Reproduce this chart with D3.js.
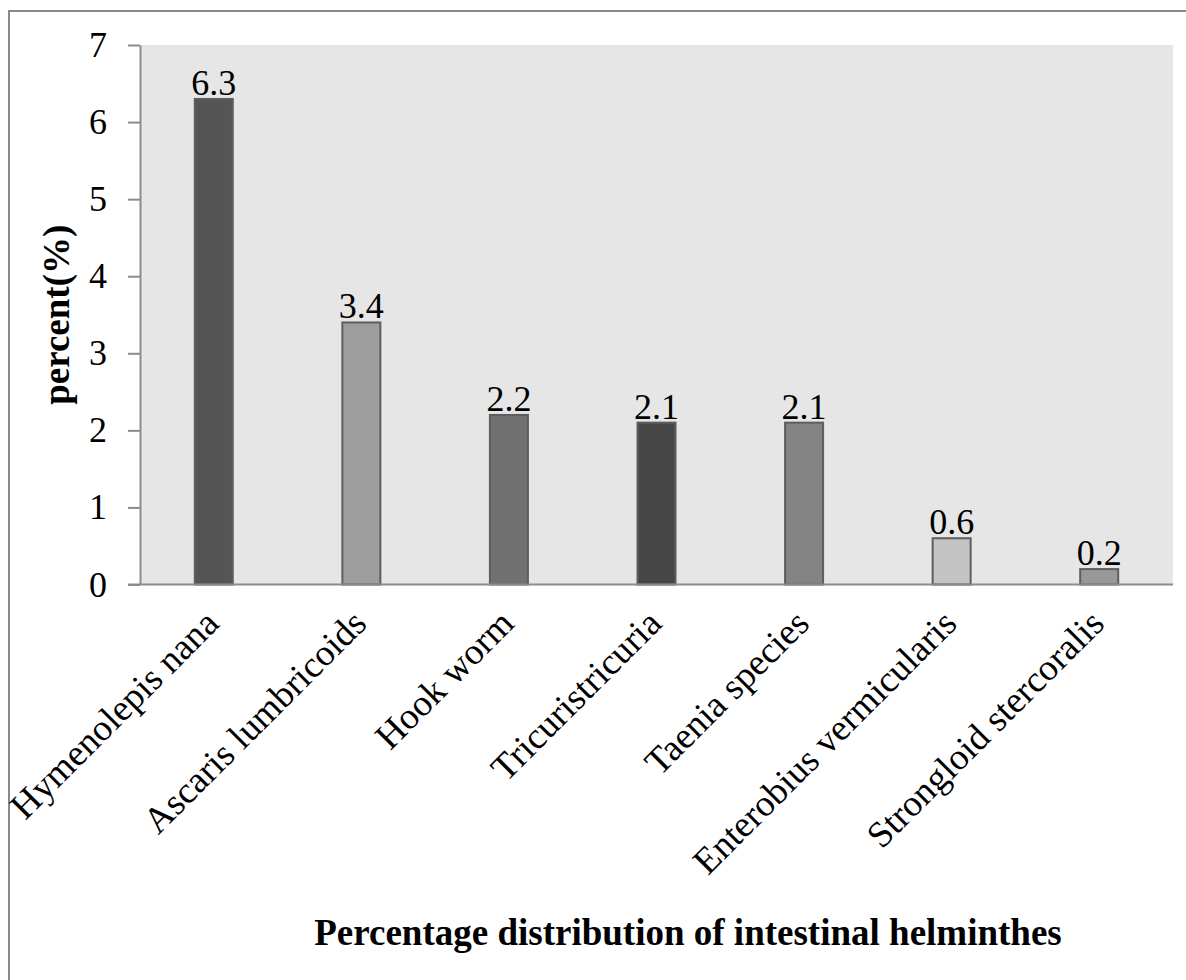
<!DOCTYPE html>
<html>
<head>
<meta charset="utf-8">
<script src="https://cdn.jsdelivr.net/npm/d3@7"></script>
<style>
  html, body { margin: 0; padding: 0; background: #ffffff; }
  svg { display: block; }
  text { font-family: "Liberation Serif", "Times New Roman", serif; fill: #000; }
</style>
</head>
<body>
<svg id="chart" width="1186" height="980"></svg>
<script>
// Helminth species and their share of the examined population (%)
const categories = [
  "Hymenolepis nana",
  "Ascaris lumbricoids",
  "Hook worm",
  "Tricuristricuria",
  "Taenia species",
  "Enterobius vermicularis",
  "Strongloid stercoralis"
];
const values = [6.3, 3.4, 2.2, 2.1, 2.1, 0.6, 0.2];
const barColors = ["#555555", "#9e9e9e", "#717171", "#474747", "#838383", "#c3c3c3", "#989898"];
const yTicks = [0, 1, 2, 3, 4, 5, 6, 7];
const yTitle = "percent(%)";
const xTitle = "Percentage distribution of intestinal helminthes";

const svg = d3.select("#chart");
const plot = { left: 140, right: 1173, top: 45, bottom: 584.5 };

// outer chart frame (extends past the right and bottom edges)
svg.append("rect")
  .attr("x", 9).attr("y", 11)
  .attr("width", 1200).attr("height", 1000)
  .attr("fill", "none")
  .attr("stroke", "#8a8a8a")
  .attr("stroke-width", 2);

const x = d3.scaleBand()
  .domain(categories)
  .range([plot.left, plot.right])
  .paddingInner(0.7425)
  .paddingOuter(0.37125);

const y = d3.scaleLinear()
  .domain([0, 7])
  .range([plot.bottom, plot.top]);

// plot area background
svg.append("rect")
  .attr("x", plot.left).attr("y", plot.top)
  .attr("width", plot.right - plot.left)
  .attr("height", plot.bottom - plot.top)
  .attr("fill", "#e6e6e6");

// y axis
const yAxis = svg.append("g")
  .attr("transform", `translate(${plot.left},0)`)
  .call(d3.axisLeft(y).tickValues(yTicks).tickFormat(d3.format("d"))
    .tickSize(12).tickSizeOuter(0).tickPadding(21));
yAxis.selectAll("path, line").attr("stroke", "#8c8c8c").attr("stroke-width", 2);
yAxis.selectAll("text")
  .attr("font-size", 36)
  .attr("font-family", "Liberation Serif, Times New Roman, serif")
  .attr("fill", "#000");

// bars
svg.append("g").selectAll("rect")
  .data(values)
  .join("rect")
  .attr("x", (d, i) => x(categories[i]))
  .attr("y", d => y(d))
  .attr("width", x.bandwidth())
  .attr("height", d => y(0) - y(d))
  .attr("fill", (d, i) => barColors[i])
  .attr("stroke", "#5e5e5e")
  .attr("stroke-width", 2);

// x axis baseline
svg.append("line")
  .attr("x1", plot.left - 12).attr("x2", plot.right)
  .attr("y1", y(0)).attr("y2", y(0))
  .attr("stroke", "#8c8c8c")
  .attr("stroke-width", 2);

// value labels
svg.append("g").selectAll("text")
  .data(values)
  .join("text")
  .attr("x", (d, i) => x(categories[i]) + x.bandwidth() / 2)
  .attr("y", d => y(d) - 4)
  .attr("text-anchor", "middle")
  .attr("font-size", 36)
  .text(d => d3.format(".1f")(d));

// rotated category labels
svg.append("g").selectAll("text")
  .data(categories)
  .join("text")
  .attr("text-anchor", "end")
  .attr("font-size", 37)
  .attr("transform", d => `translate(${x(d) + x.bandwidth() / 2 + 7},${y(0) + 41}) rotate(-45)`)
  .text(d => d);

// axis titles
svg.append("text")
  .attr("transform", `translate(69,${(plot.top + plot.bottom) / 2}) rotate(-90)`)
  .attr("text-anchor", "middle")
  .attr("font-size", 37)
  .attr("font-weight", "bold")
  .text(yTitle);

svg.append("text")
  .attr("x", 688).attr("y", 945)
  .attr("text-anchor", "middle")
  .attr("font-size", 37)
  .attr("font-weight", "bold")
  .text(xTitle);
</script>
</body>
</html>
